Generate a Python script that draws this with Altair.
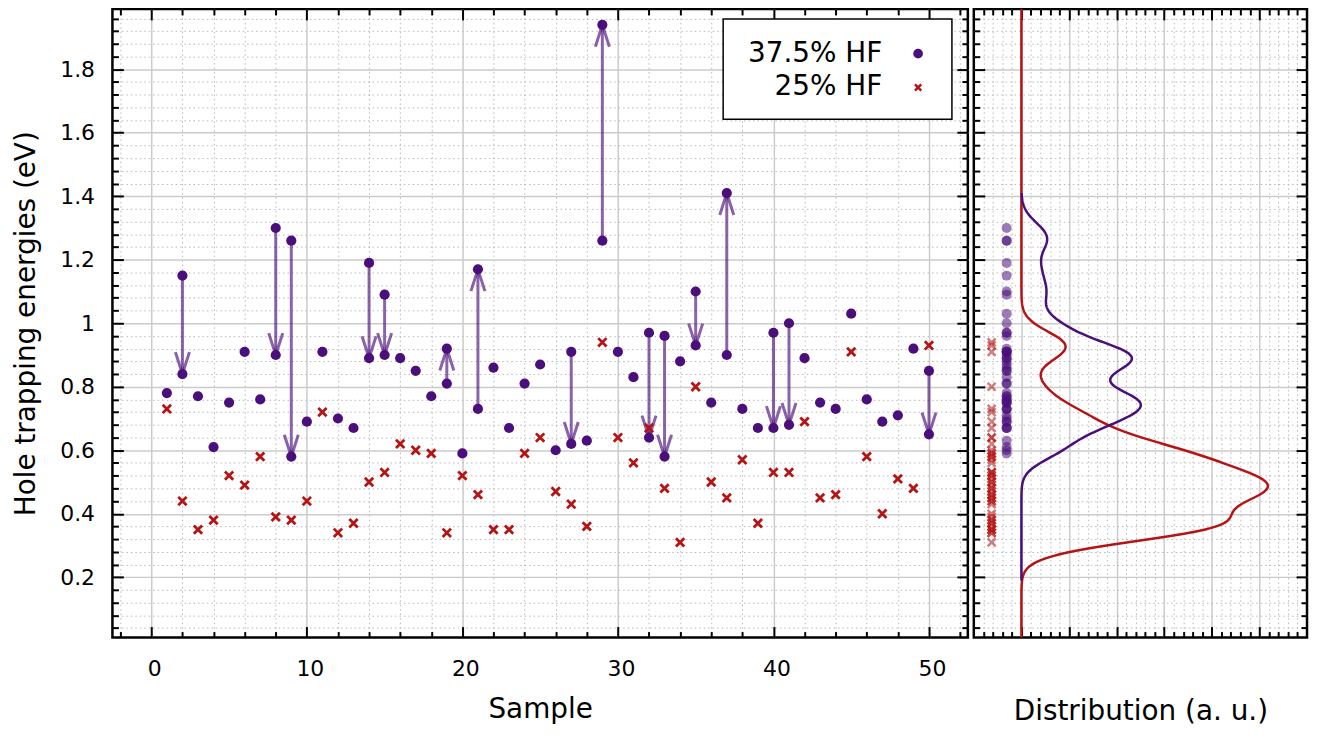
import altair as alt
import pandas as pd

# ---------------- data ----------------
series_names = ["37.5% HF", "25% HF"]
samples = list(range(1, 51))
hf375 = [0.78, 1.15, 0.77, 0.61, 0.75, 0.91, 0.76, 1.30, 1.26, 0.69,
         0.91, 0.70, 0.67, 1.19, 1.09, 0.89, 0.85, 0.77, 0.81, 0.59,
         0.73, 0.86, 0.67, 0.81, 0.87, 0.60, 0.91, 0.63, 1.26, 0.91,
         0.83, 0.97, 0.96, 0.88, 1.10, 0.75, 0.90, 0.73, 0.67, 0.97,
         1.00, 0.89, 0.75, 0.73, 1.03, 0.76, 0.69, 0.71, 0.92, 0.85]
hf25 = [0.73, 0.44, 0.35, 0.38, 0.52, 0.49, 0.58, 0.39, 0.38, 0.44,
        0.72, 0.34, 0.37, 0.50, 0.53, 0.62, 0.60, 0.59, 0.34, 0.52,
        0.46, 0.35, 0.35, 0.59, 0.64, 0.47, 0.43, 0.36, 0.94, 0.64,
        0.56, 0.67, 0.48, 0.31, 0.80, 0.50, 0.45, 0.57, 0.37, 0.53,
        0.53, 0.69, 0.45, 0.46, 0.91, 0.58, 0.40, 0.51, 0.48, 0.93]
arrow_samples = [2, 8, 9, 14, 15, 19, 21, 27, 29, 32, 33, 35, 37, 40, 41, 50]
arrow_to = [0.84, 0.90, 0.58, 0.89, 0.90, 0.92, 1.17, 0.62, 1.94, 0.64,
            0.58, 0.93, 1.41, 0.67, 0.68, 0.65]

# tick lists
y_major = [0.2, 0.4, 0.6, 0.8, 1.0, 1.2, 1.4, 1.6, 1.8]
y_minor = [round(0.04 * i, 2) for i in range(1, 50) if i % 5 != 0]
x_major = [0, 10, 20, 30, 40, 50]
x_minor = [v for v in range(-2, 53, 2) if v % 10 != 0]
xr_major = [0, 1, 2, 3, 4, 5]
xr_minor = [round(0.2 * i, 1) for i in range(-4, 30) if i % 5 != 0]

# density settings (arbitrary units)
kde_bandwidth = {"37.5% HF": 0.04, "25% HF": 0.045}
density_scale = {"37.5% HF": 0.95, "25% HF": 1.8}
density_extent = {"37.5% HF": [0.19, 1.41], "25% HF": [0.01, 1.99]}
strip_x = {"37.5% HF": -0.31, "25% HF": -0.625}

# ---------------- styles ----------------
PURPLE = "#4b0f7b"
RED = "#b41414"
FONT = "DejaVu Sans"
XSHAPE = "M -1 -1 L 1 1 M 1 -1 L -1 1"
V_DOWN = "M -0.32 -1 L 0 0 L 0.32 -1"
V_UP = "M -0.32 1 L 0 0 L 0.32 1"

GRID_MAJOR = dict(grid=True, gridColor="#cbcbcb", gridWidth=1.5)
GRID_MINOR = dict(grid=True, gridColor="#b8b8b8", gridWidth=1, gridDash=[1.5, 3])


def axis(orient, values, size, labels=False, grid=None, title=None, claim=False, **kw):
    d = dict(orient=orient, values=values, tickSize=size, offset=-size,
             ticks=True, labels=labels, domain=False, title=title, grid=False)
    if not claim:
        d.update(minExtent=0, maxExtent=0)
    if grid:
        d.update(grid)
    d.update(kw)
    return alt.Axis(**d)


main = pd.DataFrame({"sample": samples, "hf375": hf375, "hf25": hf25})
arrows = pd.DataFrame({
    "sample": arrow_samples,
    "e0": [hf375[s - 1] for s in arrow_samples],
    "e1": arrow_to,
})

xs = alt.Scale(domain=[-2.5, 52.5], nice=False, zero=False)
ys = alt.Scale(domain=[0.01, 1.99], nice=False, zero=False)
xr = alt.Scale(domain=[-1, 6], nice=False, zero=False)

H = 632

# ---------------- left panel ----------------
shafts = alt.Chart(arrows).mark_rule(color=PURPLE, opacity=0.65, strokeWidth=3).encode(
    x=alt.X("sample:Q", scale=xs,
            axis=axis("bottom", x_major, 11, labels=True, grid=GRID_MAJOR, title="Sample",
                      claim=True, labelPadding=21, titlePadding=16, labelOffset=3,
                      format="d")),
    y=alt.Y("e0:Q", scale=ys,
            axis=axis("left", y_major, 11, labels=True, grid=GRID_MAJOR,
                      title="Hole trapping energies (eV)", claim=True, labelPadding=18,
                      titlePadding=19, format="~g")),
    y2="e1:Q",
)

heads = alt.Chart(arrows).transform_calculate(
    shp=f"datum.e1 < datum.e0 ? '{V_DOWN}' : '{V_UP}'"
).mark_point(size=1936, filled=False, strokeWidth=3,
             color=PURPLE, opacity=0.65).encode(
    x=alt.X("sample:Q", scale=xs, axis=axis("bottom", x_minor, 6, grid=GRID_MINOR)),
    y=alt.Y("e1:Q", scale=ys, axis=axis("left", y_minor, 6, grid=GRID_MINOR)),
    shape=alt.Shape("shp:N", scale=None),
)

circ_tail = alt.Chart(main).mark_circle(size=105, color=PURPLE, opacity=1).encode(
    x=alt.X("sample:Q", scale=xs, axis=axis("top", x_major, 11)),
    y=alt.Y("hf375:Q", scale=ys, axis=axis("right", y_major, 11)),
)

circ_head = alt.Chart(arrows).mark_circle(size=105, color=PURPLE, opacity=1).encode(
    x=alt.X("sample:Q", scale=xs, axis=axis("top", x_minor, 6)),
    y=alt.Y("e1:Q", scale=ys, axis=axis("right", y_minor, 6)),
)

crosses = alt.Chart(main).mark_point(shape=XSHAPE, size=70, filled=False,
                                     strokeWidth=2.8, color=RED, opacity=1).encode(
    x=alt.X("sample:Q", scale=xs, axis=None),
    y=alt.Y("hf25:Q", scale=ys, axis=None),
)

leg_box = alt.Chart(pd.DataFrame({"k": [0]})).mark_rect(
    fill="white", stroke="black", strokeWidth=1.5
).encode(x=alt.value(614), x2=alt.value(844), y=alt.value(10), y2=alt.value(111))

leg_rows = []
for name, yy in zip(series_names, [45, 79]):
    leg_rows.append(
        alt.Chart(pd.DataFrame({"label": [name]})).mark_text(
            font=FONT, fontSize=28, align="right", baseline="middle", color="black"
        ).encode(text="label:N", x=alt.value(774), y=alt.value(yy))
    )
leg_p1 = alt.Chart(pd.DataFrame({"k": [0]})).mark_circle(size=95, color=PURPLE, opacity=1).encode(
    x=alt.value(810), y=alt.value(45))
leg_p2 = alt.Chart(pd.DataFrame({"k": [0]})).mark_point(
    shape=XSHAPE, size=40, filled=False, strokeWidth=2.5, color=RED, opacity=1).encode(
    x=alt.value(810), y=alt.value(79))

left = alt.layer(shafts, heads, circ_tail, circ_head, crosses,
                 leg_box, *leg_rows, leg_p1, leg_p2).resolve_axis(
    x="independent", y="independent").properties(width=860, height=H)

# ---------------- right panel ----------------
red_d = alt.Chart(main).transform_density(
    "hf25", as_=["energy", "density"], bandwidth=kde_bandwidth["25% HF"],
    extent=density_extent["25% HF"], steps=500
).transform_calculate(
    dens=f"datum.density * {density_scale['25% HF']}"
).mark_line(color=RED, strokeWidth=2.5).encode(
    x=alt.X("dens:Q", scale=xr,
            axis=axis("bottom", xr_major, 11, grid=GRID_MAJOR, claim=True,
                      title="Distribution (a. u.)", titlePadding=59)),
    y=alt.Y("energy:Q", scale=ys, axis=axis("left", y_major, 11, grid=GRID_MAJOR)),
    order="energy:Q",
)

pur_d = alt.Chart(main).transform_density(
    "hf375", as_=["energy", "density"], bandwidth=kde_bandwidth["37.5% HF"],
    extent=density_extent["37.5% HF"], steps=400
).transform_calculate(
    dens=f"datum.density * {density_scale['37.5% HF']}"
).mark_line(color=PURPLE, strokeWidth=2.5).encode(
    x=alt.X("dens:Q", scale=xr, axis=axis("bottom", xr_minor, 6, grid=GRID_MINOR)),
    y=alt.Y("energy:Q", scale=ys, axis=axis("left", y_minor, 6, grid=GRID_MINOR)),
    order="energy:Q",
)

strip_p = alt.Chart(main).transform_calculate(
    pos=str(strip_x["37.5% HF"])
).mark_circle(size=100, color=PURPLE, opacity=0.55).encode(
    x=alt.X("pos:Q", scale=xr, axis=axis("top", xr_major, 11)),
    y=alt.Y("hf375:Q", scale=ys, axis=axis("right", y_major, 11)),
)

strip_r = alt.Chart(main).transform_calculate(
    pos=str(strip_x["25% HF"])
).mark_point(shape=XSHAPE, size=64, filled=False, strokeWidth=2.5,
             color=RED, opacity=0.55).encode(
    x=alt.X("pos:Q", scale=xr, axis=axis("top", xr_minor, 6)),
    y=alt.Y("hf25:Q", scale=ys, axis=axis("right", y_minor, 6)),
)

right = alt.layer(red_d, pur_d, strip_p, strip_r).resolve_axis(
    x="independent", y="independent").properties(width=335, height=H)

chart = alt.hconcat(left, right, spacing=0).resolve_scale(
    x="independent", y="independent"
).resolve_axis(
    x="independent", y="independent"
).properties(
    padding={"left": 3, "top": -8, "right": 0, "bottom": 0}
).configure_view(
    stroke="black", strokeWidth=2.5
).configure_axis(
    labelFont=FONT, titleFont=FONT, labelFontSize=22, titleFontSize=28,
    titleFontWeight="normal", labelColor="black", titleColor="black",
    tickColor="black", tickWidth=2, domain=False
)

chart.save("out.html", embed_options={"renderer": "svg", "actions": False})
